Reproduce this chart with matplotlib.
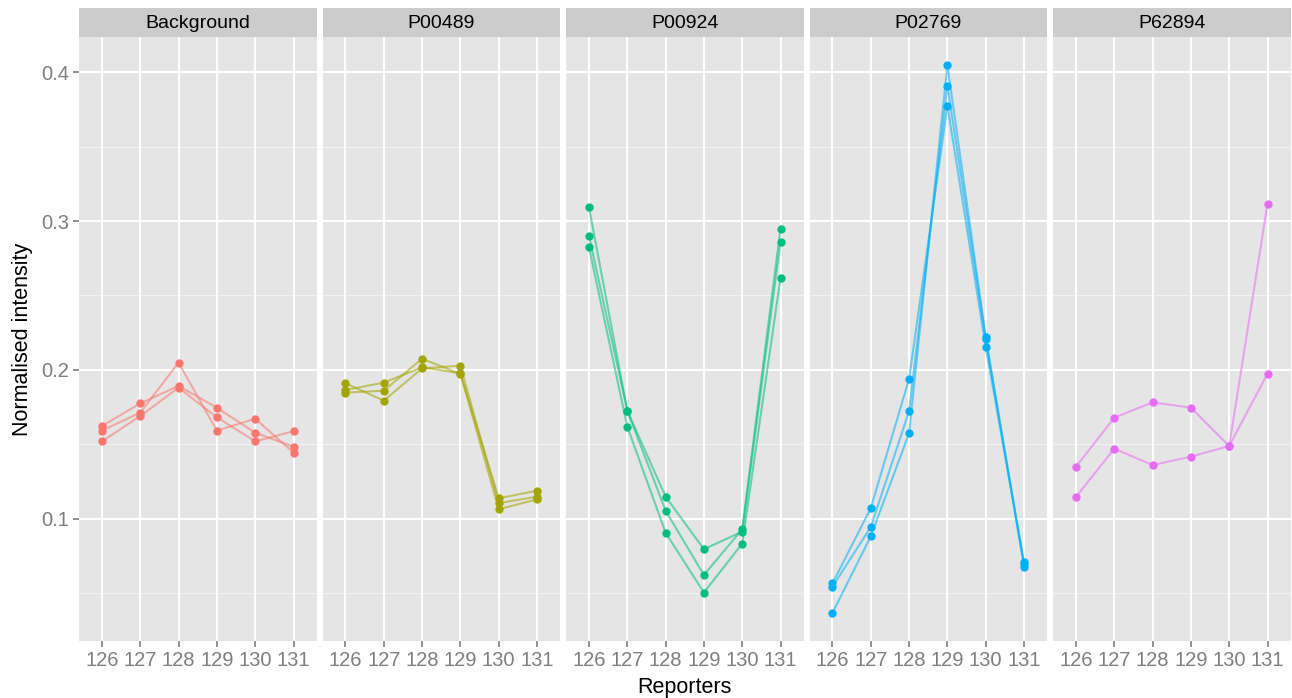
"""Reporter-ion profiles per protein, ggplot-style facets."""

import matplotlib

matplotlib.use("Agg")
import matplotlib.pyplot as plt

reporters = ["126", "127", "128", "129", "130", "131"]
proteins = ["Background", "P00489", "P00924", "P02769", "P62894"]
colours = ["#F8766D", "#A3A500", "#00BF7D", "#00B0F6", "#E76BF3"]

background = [
    [0.1624, 0.1776, 0.1893, 0.1747, 0.1579, 0.1485],
    [0.1593, 0.1714, 0.2049, 0.1593, 0.1673, 0.1445],
    [0.1521, 0.1691, 0.1881, 0.1682, 0.1521, 0.1589],
]
p00489 = [
    [0.1911, 0.1794, 0.2011, 0.2029, 0.1106, 0.1150],
    [0.1866, 0.1915, 0.2018, 0.1978, 0.1065, 0.1132],
    [0.1848, 0.1861, 0.2076, 0.1973, 0.1139, 0.1190],
]
p00924 = [
    [0.3092, 0.1727, 0.1056, 0.0624, 0.0931, 0.2949],
    [0.2901, 0.1727, 0.1150, 0.0797, 0.0915, 0.2861],
    [0.2823, 0.1620, 0.0908, 0.0506, 0.0835, 0.2619],
]
p02769 = [
    [0.0568, 0.1073, 0.1940, 0.3775, 0.2154, 0.0710],
    [0.0546, 0.0946, 0.1724, 0.3907, 0.2209, 0.0680],
    [0.0369, 0.0884, 0.1575, 0.4048, 0.2221, 0.0695],
]
p62894 = [
    [0.1351, 0.1680, 0.1783, 0.1747, 0.1490, 0.1975],
    [0.1148, 0.1472, 0.1362, 0.1418, 0.1490, 0.3116],
]
profiles = [background, p00489, p00924, p02769, p62894]

W, H = 1292, 698
fig = plt.figure(figsize=(W / 100, H / 100), dpi=100)
plt.rcParams["font.family"] = ["Liberation Sans", "DejaVu Sans"]

left0, pw, gap = 79, 237.5, 6.0
top, bottom, strip_h = 37, 641, 29
ylim = (0.0181, 0.4235)
xpos = list(range(len(reporters)))

for i, (name, reps, col) in enumerate(zip(proteins, profiles, colours)):
    x0 = left0 + i * (pw + gap)
    ax = fig.add_axes([x0 / W, (H - bottom) / H, pw / W, (bottom - top) / H])
    ax.set_facecolor("#E5E5E5")
    for s in ax.spines.values():
        s.set_visible(False)
    ax.set_xlim(-0.6, len(reporters) - 0.4)
    ax.set_ylim(*ylim)
    for yv in [0.05, 0.15, 0.25, 0.35]:
        ax.axhline(yv, color="#F2F2F2", lw=0.8, zorder=0)
    for yv in [0.1, 0.2, 0.3, 0.4]:
        ax.axhline(yv, color="white", lw=1.5, zorder=0)
    for xv in xpos:
        ax.axvline(xv, color="white", lw=1.5, zorder=0)
    for r in reps:
        ax.plot(xpos, r, color=col, alpha=0.55, lw=1.5, zorder=2)
        ax.plot(xpos, r, "o", color=col, ms=6, mec="none", zorder=3)
    ax.set_xticks(xpos)
    ax.set_xticklabels(reporters)
    ax.tick_params(axis="both", colors="#7F7F7F", labelcolor="#7F7F7F",
                   labelsize=14.5, length=4, width=1.2, pad=3)
    if i == 0:
        ax.set_yticks([0.1, 0.2, 0.3, 0.4])
        ax.set_yticklabels(["0.1", "0.2", "0.3", "0.4"])
        ax.set_ylabel("Normalised intensity", fontsize=15.5, color="black",
                      labelpad=6)
    else:
        ax.set_yticks([])
    if i == 2:
        ax.set_xlabel("Reporters", fontsize=15.5, color="black", labelpad=5)

    sax = fig.add_axes([x0 / W, (H - top) / H, pw / W, strip_h / H])
    sax.set_facecolor("#CCCCCC")
    sax.set_xticks([])
    sax.set_yticks([])
    for s in sax.spines.values():
        s.set_visible(False)
    sax.text(0.5, 0.45, name, ha="center", va="center", fontsize=14,
             color="black", transform=sax.transAxes)

fig.savefig("out.png", dpi=100)
